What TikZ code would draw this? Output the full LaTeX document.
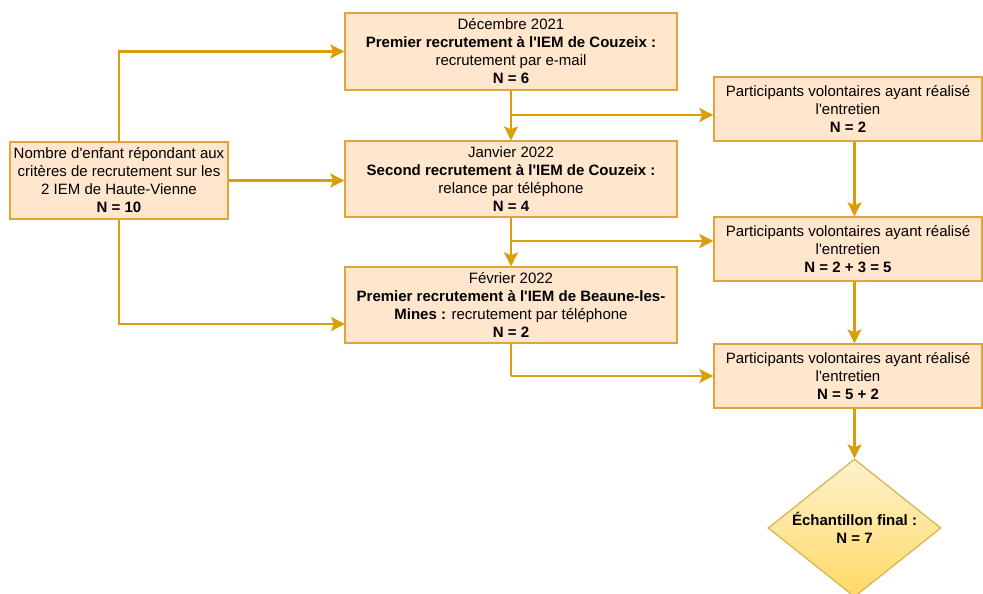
\documentclass[tikz,border=0pt]{standalone}
\usepackage{fontspec}
\setmainfont{Liberation Sans}[Ligatures=TeXOff]
\usetikzlibrary{arrows.meta,shapes.geometric}
\definecolor{boxfill}{HTML}{FFE6CC}
\definecolor{boxline}{HTML}{DFA53A}
\definecolor{linkcol}{HTML}{D99E08}
\definecolor{dtop}{HTML}{FFF2CC}
\definecolor{dbot}{HTML}{FFD966}
\definecolor{dline}{HTML}{D6B656}
\tikzset{
  every node/.style={font=\fontsize{15}{18}\selectfont},
  stepbox/.style={draw=boxline, fill=boxfill, line width=1.3pt, rectangle,
    inner sep=0pt, align=center},
  finalbox/.style={draw=dline, line width=1.3pt, diamond, top color=dtop,
    bottom color=dbot, inner sep=0pt, align=center,
    minimum width=173pt, minimum height=138pt, aspect=1.254},
  arr/.style={draw=linkcol, line width=2.2pt,
    -{Stealth[length=14pt,width=14pt,inset=3pt]}},
  lnk/.style={draw=linkcol, line width=2.2pt}
}
\begin{document}
\begin{tikzpicture}[x=1pt,y=-1pt]
\useasboundingbox (0,0) rectangle (983,594);
\clip (0,0) rectangle (983,594);
\fill[white] (0,0) rectangle (983,594);

% source population
\node[stepbox, minimum width=218pt, minimum height=77pt] (lb) at (119,180.5)
  {Nombre d'enfant répondant aux\\critères de recrutement sur les\\2 IEM de Haute-Vienne\\\textbf{N = 10}};

% recruitment waves
\node[stepbox, minimum width=332pt, minimum height=77pt] (b1) at (511,51.5)
  {Décembre 2021\\\textbf{Premier recrutement à l'IEM de Couzeix :}\\recrutement par e-mail\\\textbf{N = 6}};
\node[stepbox, minimum width=332pt, minimum height=76pt] (b2) at (511,179)
  {Janvier 2022\\\textbf{Second recrutement à l'IEM de Couzeix :}\\relance par téléphone\\\textbf{N = 4}};
\node[stepbox, minimum width=332pt, minimum height=76pt] (b3) at (511,305)
  {Février 2022\\\textbf{Premier recrutement à l'IEM de Beaune-les-}\\\textbf{Mines :} recrutement par téléphone\\\textbf{N = 2}};

% cumulative participants
\node[stepbox, minimum width=268pt, minimum height=64pt] (r1) at (848,109)
  {Participants volontaires ayant réalisé\\l'entretien\\\textbf{N = 2}};
\node[stepbox, minimum width=268pt, minimum height=64pt] (r2) at (848,249)
  {Participants volontaires ayant réalisé\\l'entretien\\\textbf{N = 2 + 3 = 5}};
\node[stepbox, minimum width=268pt, minimum height=64pt] (r3) at (848,376)
  {Participants volontaires ayant réalisé\\l'entretien\\\textbf{N = 5 + 2}};

% final sample
\node[finalbox] (fin) at (854.5,528) {\textbf{Échantillon final :}\\\textbf{N = 7}};

% branch points
\coordinate (j1) at (511,115);
\coordinate (j2) at (511,241);
\coordinate (j3) at (511,376);
\coordinate (b3in) at (345,324);

% links from the source population
\draw[arr] (lb.north) |- (b1.west);
\draw[arr] (lb.east) -- (lb.east -| b2.west);
\draw[arr] (lb.south) |- (b3in);

% chain of recruitment waves
\draw[arr] (b1) -- (b2);
\draw[arr] (b2) -- (b3);
\draw[arr] (j1) -- (r1.west |- j1);
\draw[arr] (j2) -- (r2.west |- j2);
\draw[lnk] (b3.south) -- (j3);
\draw[arr] (j3) -- (r3.west);

% cumulative chain
\draw[arr] (r1.south -| fin.north) -- (r2.north -| fin.north);
\draw[arr] (r2.south -| fin.north) -- (r3.north -| fin.north);
\draw[arr] (r3.south -| fin.north) -- (fin.north);
\end{tikzpicture}
\end{document}
